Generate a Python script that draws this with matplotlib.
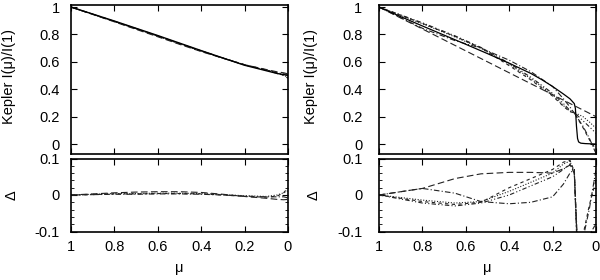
import matplotlib
matplotlib.use("Agg")
import matplotlib.pyplot as plt
from matplotlib.ticker import MultipleLocator

plt.rcParams['font.family'] = ['Liberation Sans', 'DejaVu Sans']
plt.rcParams['font.size'] = 10.5

# ---- left: hot star, all laws fit well ----
mu_l = [1.0, 0.9, 0.8, 0.7, 0.6, 0.5, 0.4, 0.3, 0.2, 0.1, 0.05, 0.02, 0.0]
model_l = [1.0, 0.949, 0.898, 0.845, 0.792, 0.737, 0.682, 0.628, 0.575, 0.535, 0.515, 0.507, 0.5]
fit_l_a = [1.0, 0.946, 0.892, 0.837, 0.783, 0.728, 0.675, 0.626, 0.579, 0.544, 0.527, 0.52, 0.512]
fit_l_b = [1.0, 0.948, 0.895, 0.842, 0.788, 0.733, 0.679, 0.628, 0.579, 0.541, 0.518, 0.501, 0.48]
fit_l_c = [1.0, 0.947, 0.894, 0.841, 0.787, 0.732, 0.678, 0.627, 0.577, 0.539, 0.515, 0.501, 0.488]
fit_l_d = [1.0, 0.948, 0.896, 0.843, 0.789, 0.734, 0.68, 0.628, 0.578, 0.54, 0.52, 0.512, 0.508]

dl_a = [0.0, 0.003, 0.006, 0.008, 0.009, 0.009, 0.007, 0.002, -0.004, -0.009, -0.012, -0.013, -0.012]
dl_b = [0.0, 0.001, 0.003, 0.003, 0.004, 0.004, 0.003, 0.0, -0.004, -0.006, -0.003, 0.006, 0.02]
dl_c = [0.0, 0.002, 0.004, 0.004, 0.005, 0.005, 0.004, 0.001, -0.002, -0.004, 0.0, 0.006, 0.012]
dl_d = [0.0, 0.001, 0.002, 0.002, 0.003, 0.003, 0.002, 0.0, -0.003, -0.005, -0.005, -0.005, -0.008]

# ---- right: cool star, sharp drop at the limb ----
mu_m = [1.0, 0.9, 0.8, 0.7, 0.6, 0.5, 0.4, 0.3, 0.25, 0.2, 0.15, 0.12, 0.1,
        0.095, 0.09, 0.085, 0.08, 0.07, 0.05, 0.02, 0.0]
model_r = [1.0, 0.93, 0.862, 0.795, 0.728, 0.66, 0.59, 0.515, 0.47, 0.42, 0.365, 0.33, 0.295,
           0.26, 0.13, 0.04, 0.015, 0.006, 0.003, 0.001, 0.0]

mu_lin = [1.0, 0.0]
fit_lin = [1.0, 0.2]

mu_f = [1.0, 0.8, 0.65, 0.53, 0.4, 0.3, 0.2, 0.15, 0.12, 0.1, 0.06, 0.03, 0.0]
fit_b = [1.0, 0.845, 0.755, 0.7, 0.612, 0.528, 0.42, 0.33, 0.27, 0.225, 0.13, 0.04, -0.07]
fit_c = [1.0, 0.878, 0.782, 0.7, 0.582, 0.477, 0.36, 0.28, 0.24, 0.23, 0.2, 0.16, 0.115]
fit_d = [1.0, 0.885, 0.79, 0.705, 0.59, 0.487, 0.37, 0.295, 0.245, 0.23, 0.17, 0.125, 0.078]
fit_e = [1.0, 0.881, 0.786, 0.702, 0.572, 0.468, 0.35, 0.275, 0.235, 0.228, 0.12, 0.03, -0.04]

mu_d = [1.0, 0.8, 0.65, 0.53, 0.4, 0.3, 0.2, 0.15, 0.12, 0.1, 0.09, 0.085, 0.06, 0.03, 0.0]
dr_a = [0.0, 0.018, 0.045, 0.058, 0.062, 0.062, 0.06, 0.072, 0.082, 0.06, -0.08, -0.14, -0.17, -0.19, -0.2]
dr_b = [0.0, 0.018, 0.005, -0.018, -0.024, -0.02, -0.005, 0.03, 0.06, 0.07, -0.07, -0.13, -0.12, -0.036, 0.07]
dr_c = [0.0, -0.014, -0.022, -0.018, 0.01, 0.035, 0.06, 0.085, 0.093, 0.06, -0.09, -0.15, -0.16, -0.15, -0.115]
dr_d = [0.0, -0.022, -0.03, -0.022, 0.0, 0.025, 0.05, 0.07, 0.085, 0.06, -0.1, -0.16, -0.14, -0.11, -0.078]
dr_e = [0.0, -0.018, -0.026, -0.02, 0.02, 0.045, 0.07, 0.09, 0.095, 0.065, -0.09, -0.16, -0.11, -0.026, 0.04]

ls_solid = '-'
ls_long = (0, (6, 3))
ls_short = (0, (3, 3))
ls_dot = (0, (1, 1.5))
ls_dashdot = (0, (5, 2, 1, 2))
ls_dashdotdot = (0, (4, 2, 1, 2, 1, 2))

W = 217 / 600


def style(ax, lower, ypad, ylab_x):
    ax.set_xlim(1, 0)
    ax.xaxis.set_major_locator(MultipleLocator(0.2))
    ax.tick_params(direction='in', top=True, right=True, length=4, width=0.8)
    for s in ax.spines.values():
        s.set_linewidth(1.2)
    ax.tick_params(axis='y', pad=ypad)
    if lower:
        ax.set_ylim(-0.1, 0.1)
        ax.yaxis.set_minor_locator(MultipleLocator(0.02))
        ax.tick_params(which='minor', direction='in', right=True, length=2, width=0.6)
        ax.set_xticks([1, 0.8, 0.6, 0.4, 0.2, 0])
        ax.set_xticklabels(['1', '0.8', '0.6', '0.4', '0.2', '0'])
        ax.set_yticks([-0.1, 0, 0.1])
        ax.set_yticklabels(['-0.1', '0', '0.1'])
        ax.tick_params(axis='x', pad=6)
        ax.set_ylabel('Δ', rotation=90)
        ax.yaxis.set_label_coords(ylab_x + 0.01, 0.5)
        ax.set_xlabel('μ')
        ax.xaxis.set_label_coords(0.5, -0.5)
        ax.xaxis.label.set_va('center')
    else:
        ax.set_ylim(-0.073, 1.015)
        ax.set_yticks([0, 0.2, 0.4, 0.6, 0.8, 1])
        ax.set_yticklabels(['0', '0.2', '0.4', '0.6', '0.8', '1'])
        ax.set_xticklabels([])
        ax.set_ylabel('Kepler I(μ)/I(1)')
        ax.yaxis.set_label_coords(ylab_x, 0.52)
    ax.yaxis.label.set_va('center')


fig = plt.figure(figsize=(6, 2.8), dpi=100)
top_b = 1 - 154 / 280
top_h = 149 / 280
low_b = 1 - 231.5 / 280
low_h = 73 / 280

ax1 = fig.add_axes([71 / 600, top_b, W, top_h])
ax2 = fig.add_axes([71 / 600, low_b, W, low_h])
ax3 = fig.add_axes([379 / 600, top_b, W, top_h])
ax4 = fig.add_axes([379 / 600, low_b, W, low_h])

lw = 0.8
col = '#222222'

ax1.plot(mu_l, fit_l_a, color=col, lw=lw, ls=ls_long)
ax1.plot(mu_l, fit_l_b, color=col, lw=lw, ls=ls_short)
ax1.plot(mu_l, fit_l_c, color=col, lw=lw, ls=ls_dot)
ax1.plot(mu_l, fit_l_d, color=col, lw=lw, ls=ls_dashdot)
ax1.plot(mu_l, model_l, color='black', lw=1.0, ls=ls_solid)

ax2.plot(mu_l, dl_a, color=col, lw=lw, ls=ls_long)
ax2.plot(mu_l, dl_b, color=col, lw=lw, ls=ls_short)
ax2.plot(mu_l, dl_c, color=col, lw=lw, ls=ls_dot)
ax2.plot(mu_l, dl_d, color=col, lw=lw, ls=ls_dashdot)

ax3.plot(mu_lin, fit_lin, color=col, lw=lw, ls=ls_long)
ax3.plot(mu_f, fit_b, color=col, lw=lw, ls=ls_dashdot)
ax3.plot(mu_f, fit_c, color=col, lw=lw, ls=ls_dot)
ax3.plot(mu_f, fit_d, color=col, lw=lw, ls=ls_dashdotdot)
ax3.plot(mu_f, fit_e, color=col, lw=lw, ls=ls_short)
ax3.plot(mu_m, model_r, color='black', lw=0.9, ls=ls_solid)

ax4.plot(mu_d, dr_a, color=col, lw=lw, ls=ls_long)
ax4.plot(mu_d, dr_b, color=col, lw=lw, ls=ls_dashdot)
ax4.plot(mu_d, dr_c, color=col, lw=lw, ls=ls_dot)
ax4.plot(mu_d, dr_d, color=col, lw=lw, ls=ls_dashdotdot)
ax4.plot(mu_d, dr_e, color=col, lw=lw, ls=ls_short)

style(ax1, False, 8, (9 - 71) / 217)
style(ax2, True, 8, (9 - 71) / 217)
style(ax3, False, 12, (311 - 379) / 217)
style(ax4, True, 12, (311 - 379) / 217)

fig.savefig("out.png", dpi=100)
plt.close()
